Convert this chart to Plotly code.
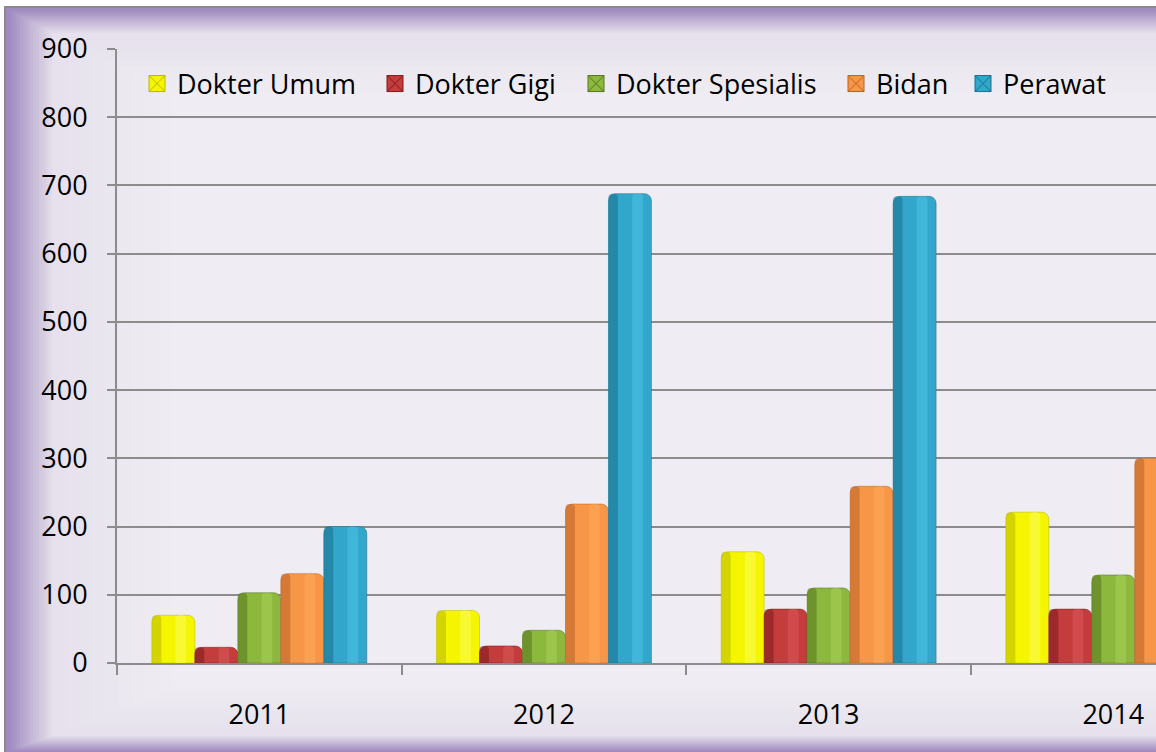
import plotly.graph_objects as go

tahun = ['2011', '2012', '2013', '2014']
dokter_umum = [70, 77, 163, 221]
dokter_gigi = [23, 25, 79, 79]
dokter_spesialis = [103, 48, 110, 129]
bidan = [131, 233, 259, 300]
perawat = [200, 688, 684, 700]

seri = [
    ('Dokter Umum', dokter_umum, '#f5f500', '#b8b800', '#ffff70'),
    ('Dokter Gigi', dokter_gigi, '#c43c3c', '#7e1c1c', '#e06060'),
    ('Dokter Spesialis', dokter_spesialis, '#8db83e', '#55741f', '#aed65c'),
    ('Bidan', bidan, '#f79646', '#b8622a', '#ffb060'),
    ('Perawat', perawat, '#33a7cb', '#17708c', '#4fcaea'),
]

# pixel layout helpers (plot area 117..1156 x 49..663)
L, T, W, H = 117, 49, 1039, 614
def px(x):
    return (x - L) / W
def py(y):
    return (T + H - y) / H

def mix(c1, c2, t):
    a = [int(c1[i:i+2], 16) for i in (1, 3, 5)]
    b = [int(c2[i:i+2], 16) for i in (1, 3, 5)]
    return '#' + ''.join(f'{round(a[k] + (b[k] - a[k]) * t):02x}' for k in range(3))

fig = go.Figure()

group = 0.755
bw = group / len(seri)
legend_left = [137, 375, 576, 836, 963]
legends = {}
for i, (nama, vals, base, dark, light) in enumerate(seri):
    off = -group / 2 + i * bw
    fig.add_trace(go.Bar(
        name=nama, x=tahun, y=vals, offset=off, width=bw, showlegend=False,
        marker=dict(color=base, line=dict(color=dark, width=0.5), cornerradius=7),
    ))
    # shading strips for the cylinder look
    fig.add_trace(go.Bar(
        x=tahun, y=vals, offset=off, width=bw * 0.22, showlegend=False, hoverinfo='skip',
        marker=dict(color=dark, opacity=0.55, line=dict(width=0), cornerradius=4),
    ))
    fig.add_trace(go.Bar(
        x=tahun, y=vals, offset=off + bw * 0.55, width=bw * 0.25, showlegend=False, hoverinfo='skip',
        marker=dict(color=light, opacity=0.45, line=dict(width=0), cornerradius=4),
    ))
    # legend entry: bevelled square
    lg = 'legend' if i == 0 else f'legend{i + 1}'
    fig.add_trace(go.Scatter(
        name=nama, x=[None], y=[None], mode='markers', legend=lg,
        marker=dict(symbol='square-x', size=18, color=base, line=dict(color=dark, width=1)),
    ))
    legends[lg] = dict(orientation='h', x=px(legend_left[i]), y=py(84), xanchor='left', yanchor='middle',
                       bgcolor='rgba(0,0,0,0)', font=dict(size=27), itemwidth=30, itemsizing='trace')

shapes = []
# outer gray frame
shapes.append(dict(type='rect', xref='paper', yref='paper', x0=px(5), x1=px(1170), y0=py(7), y1=py(770),
                   line=dict(color='#8a8a8a', width=2), fillcolor='#a08abf', layer='below'))
# purple gradient border
steps = 14
for k in range(1, steps + 1):
    t = k / steps
    shapes.append(dict(type='rect', xref='paper', yref='paper',
                       x0=px(7 + 45 * t), x1=px(1170), y0=py(9 + 24 * t), y1=py(752 - 16 * t),
                       line=dict(width=0), fillcolor=mix('#a08abf', '#e6e1ec', t), layer='below'))
# soft inner glow
for k in range(1, 10):
    t = k / 9
    shapes.append(dict(type='rect', xref='paper', yref='paper',
                       x0=px(52 + 120 * t), x1=px(1170), y0=py(33 + 60 * t), y1=py(736 - 50 * t),
                       line=dict(width=0), fillcolor=mix('#e6e1ec', '#efedf3', t), layer='below'))

fig.update_layout(
    width=1156, height=752,
    margin=dict(l=L, r=0, t=T, b=752 - T - H),
    paper_bgcolor='white', plot_bgcolor='rgba(0,0,0,0)',
    barmode='overlay',
    shapes=shapes,
    font=dict(family='Open Sans', size=27, color='black'),
    showlegend=True,
    xaxis=dict(range=[-0.5, 3.15], showgrid=False, showline=True, linecolor='#8c8c8c', linewidth=2,
               ticks='outside', tickson='boundaries', ticklen=10, tickwidth=2, tickcolor='#8c8c8c',
               ticklabelstandoff=27, tickfont=dict(size=27)),
    yaxis=dict(range=[0, 900], dtick=100, showgrid=True, gridcolor='#8c8c8c', gridwidth=2,
               showline=True, linecolor='#8c8c8c', linewidth=2, zeroline=False,
               ticks='outside', ticklen=8, tickwidth=2, tickcolor='#8c8c8c',
               ticklabelstandoff=14, tickfont=dict(size=27)),
)
fig.update_layout(**legends)

fig.write_html('out.html', config={'displayModeBar': False},
               post_script="document.body.style.margin='0';document.body.style.overflow='hidden';")
